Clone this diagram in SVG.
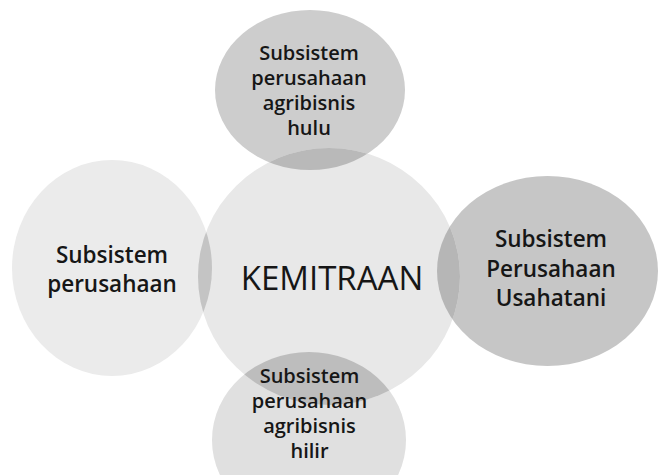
<svg xmlns="http://www.w3.org/2000/svg" width="659" height="475" viewBox="0 0 659 475">
  <defs>
    <clipPath id="clipCenter">
      <ellipse cx="329" cy="276.5" rx="131" ry="128.5"/>
    </clipPath>
  </defs>
  <style>
    .lbl { font-family: "Open Sans", "Noto Sans", sans-serif; fill: #161616; text-anchor: middle; }
    .sm { font-size: 20px; font-weight: 600; }
    .md { font-size: 22.5px; font-weight: 600; }
    .lg { font-size: 33px; font-weight: 400; }
  </style>
  <rect width="659" height="475" fill="#ffffff"/>

  <g id="node-top">
    <ellipse cx="310" cy="90" rx="95" ry="80" fill="#cdcdcd"/>
  </g>
  <g id="node-left">
    <ellipse cx="112" cy="268" rx="100" ry="108" fill="#ebebeb"/>
  </g>
  <g id="node-right">
    <ellipse cx="547.5" cy="271" rx="110.5" ry="95" fill="#c6c6c6"/>
  </g>
  <g id="node-bottom">
    <ellipse cx="309" cy="440" rx="97" ry="88" fill="#e0e0e0"/>
  </g>
  <g id="node-center">
    <ellipse cx="329" cy="276.5" rx="131" ry="128.5" fill="#e8e8e8"/>
    <g clip-path="url(#clipCenter)">
      <ellipse cx="310" cy="90" rx="95" ry="80" fill="#b9b9b9"/>
      <ellipse cx="112" cy="268" rx="100" ry="108" fill="#c4c4c4"/>
      <ellipse cx="547.5" cy="271" rx="110.5" ry="95" fill="#b6b6b6"/>
      <ellipse cx="309" cy="440" rx="97" ry="88" fill="#bdbdbd"/>
    </g>
    <text class="lbl lg" x="332" y="290">KEMITRAAN</text>
  </g>

  <g id="labels-top">
    <text class="lbl sm" x="309" y="60">Subsistem</text>
    <text class="lbl sm" x="309" y="85">perusahaan</text>
    <text class="lbl sm" x="309" y="110">agribisnis</text>
    <text class="lbl sm" x="309" y="135">hulu</text>
  </g>
  <g id="labels-left">
    <text class="lbl md" x="112" y="263">Subsistem</text>
    <text class="lbl md" x="112" y="292">perusahaan</text>
  </g>
  <g id="labels-right">
    <text class="lbl md" x="551" y="247">Subsistem</text>
    <text class="lbl md" x="551" y="277">Perusahaan</text>
    <text class="lbl md" x="551" y="306">Usahatani</text>
  </g>
  <g id="labels-bottom">
    <text class="lbl sm" x="309.5" y="383">Subsistem</text>
    <text class="lbl sm" x="309.5" y="408">perusahaan</text>
    <text class="lbl sm" x="309.5" y="433">agribisnis</text>
    <text class="lbl sm" x="309.5" y="458">hilir</text>
  </g>
  <g id="connectors"/>
</svg>
